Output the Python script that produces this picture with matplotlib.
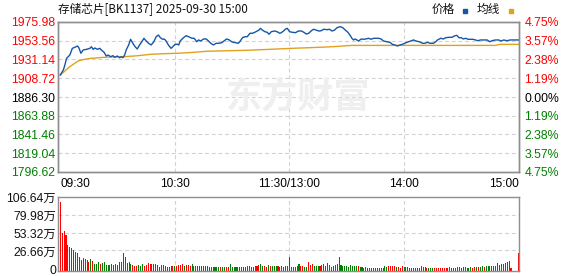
import matplotlib
matplotlib.use('Agg')
import matplotlib.pyplot as plt
from matplotlib.patches import Rectangle
from matplotlib.transforms import offset_copy
import numpy as np

# ---------------- data ----------------
title = "存储芯片[BK1137] 2025-09-30 15:00"
base_price = 1886.30
price_ticks = [1975.98, 1953.56, 1931.14, 1908.72, 1886.30, 1863.88, 1841.46, 1819.04, 1796.62]
price_tick_labels = ["1975.98", "1953.56", "1931.14", "1908.72", "1886.30",
                     "1863.88", "1841.46", "1819.04", "1796.62"]
pct_tick_labels = ["4.75%", "3.57%", "2.38%", "1.19%", "0.00%", "1.19%", "2.38%", "3.57%", "4.75%"]
time_ticks = [0, 60, 120, 180, 240]
time_labels = ["09:30", "10:30", "11:30/13:00", "14:00", "15:00"]
vol_ticks = [106.64, 79.98, 53.32, 26.66, 0]
vol_tick_labels = ["106.64万", "79.98万", "53.32万", "26.66万", "0"]

# price line (minute index, price)
price_min = [0, 1.6, 2.4, 3.3, 5.0, 6.3, 7.6, 9.0, 9.7, 10.8, 12.0, 13.7, 15.5, 16.3, 17.2, 18.1,
             19.4, 20.7, 21.5, 22.9, 24.1, 25.0, 26.4, 27.6, 28.5, 29.9, 31.1, 31.9, 32.8, 33.7,
             34.5, 35.8, 36.8, 38.0, 39.2, 40.3, 41.5, 42.7, 43.8, 45.0, 46.2, 47.6, 49.0, 50.2,
             51.4, 52.4, 53.6, 54.5, 55.4, 56.6, 58.0, 58.9, 60.1, 61.5,
             62.0, 62.8, 64.5, 65.9, 67.2, 68.9, 70.1, 71.5, 72.4, 73.6, 75.0, 76.4, 77.6, 78.8,
             80.2, 81.6, 82.8, 84.5, 85.7, 87.1, 88.5, 89.7, 90.6, 91.9, 93.2, 94.0, 95.4, 96.7,
             97.9, 99.3, 100.6, 101.9, 103.1, 104.1, 104.8, 105.8, 107.1, 108.3, 109.3, 110.5,
             112.3, 113.5, 114.9, 115.7, 116.9, 118.0, 118.8, 120.1, 121.4,
             123.2, 124.6, 126.3, 127.5, 128.8, 130.1, 131.5, 132.7, 133.9, 135.3, 136.7, 137.9,
             139.7, 140.9, 142.3, 143.7, 144.9, 146.6, 147.9, 149.2, 150.6, 151.9, 152.7, 153.6,
             154.4, 155.3, 156.2, 157.6, 158.8, 160.0, 161.4, 162.8, 164.0, 166.6, 168.0, 169.2,
             170.9, 172.6, 173.9, 175.2, 176.6, 177.9, 179.1, 180.4,
             181.5, 183.6, 185.0, 186.2, 187.9, 189.7, 190.9, 192.3, 193.7, 195.4, 196.6, 197.5,
             199.2, 200.6, 201.8, 203.6, 205.3, 206.2, 207.6, 208.8, 210.0, 211.0, 212.3, 213.5,
             214.9, 216.2, 217.4, 218.7, 220.0, 221.8, 223.5, 224.9, 226.1, 227.9, 229.6, 230.8,
             232.2, 233.9, 235.6, 237.4, 240.0]
price_val = [1912.6, 1918.6, 1924.6, 1932.6, 1936.5, 1944.5, 1945.7, 1947.3, 1945.3, 1938.6, 1942.5,
             1943.3, 1944.5, 1946.4, 1943.3, 1944.9, 1943.3, 1944.5, 1942.5, 1939.8, 1935.3, 1936.5,
             1934.5, 1935.7, 1933.8, 1935.3, 1933.3, 1934.5, 1933.3, 1936.5, 1942.5, 1948.5, 1955.3,
             1950.5, 1946.4, 1943.7, 1948.5, 1952.4, 1956.5, 1953.3, 1950.5, 1948.5, 1952.4, 1958.4,
             1960.4, 1957.2, 1955.3, 1955.6, 1953.3, 1948.5, 1944.5, 1946.4, 1949.3, 1949.3,
             1948.5, 1953.3, 1957.2, 1959.6, 1958.4, 1956.5, 1956.5, 1952.4, 1954.5, 1953.3, 1955.7,
             1955.7, 1953.3, 1950.5, 1948.5, 1950.5, 1950.5, 1951.2, 1953.3, 1955.7, 1954.5, 1952.4,
             1951.7, 1951.2, 1950.5, 1952.4, 1957.2, 1958.4, 1958.4, 1962.5, 1962.5, 1963.7, 1965.2,
             1966.4, 1968.4, 1966.4, 1964.4, 1963.7, 1961.3, 1964.4, 1965.2, 1964.4, 1962.5, 1963.2,
             1965.2, 1967.6, 1968.4, 1964.4, 1963.7,
             1963.2, 1965.2, 1965.2, 1963.7, 1961.6, 1962.5, 1965.6, 1967.3, 1966.4, 1965.2, 1965.6,
             1967.3, 1966.8, 1967.3, 1965.2, 1966.4, 1969.2, 1970.4, 1969.2, 1966.4, 1963.7, 1959.6,
             1956.5, 1954.5, 1955.7, 1954.5, 1953.3, 1955.7, 1955.3, 1955.7, 1956.5, 1955.3, 1956.5,
             1956.5, 1955.7, 1953.3, 1952.4, 1951.7, 1949.3, 1948.5, 1947.3, 1948.5, 1949.3, 1950.5,
             1951.7, 1953.3, 1954.5, 1953.3, 1952.4, 1950.5, 1950.5, 1951.7, 1950.5, 1950.5, 1952.4,
             1954.5, 1956.5, 1955.7, 1957.2, 1957.7, 1957.7, 1959.2, 1960.1, 1957.2, 1957.2, 1955.7,
             1956.5, 1955.3, 1955.3, 1955.3, 1954.5, 1953.6, 1954.5, 1954.5, 1954.5, 1952.4, 1953.6,
             1954.5, 1954.5, 1953.3, 1954.5, 1953.6, 1954.5, 1954.5, 1954.5]

# average price line (minute index, price)
avg_min = [0, 2.4, 5.0, 7.6, 9.4, 12.8, 16.3, 23.3, 33.7, 40.6, 47.6, 54.5, 61.5, 67.4, 76.7,
           98.4, 109.6, 121.4, 131.0, 142.3, 152.7, 228.0, 230.0, 240.0]
avg_val = [1912.6, 1917.4, 1922.6, 1926.6, 1929.4, 1931.4, 1932.6, 1933.8, 1934.5, 1935.7, 1937.4,
           1938.1, 1938.6, 1939.3, 1941.0, 1942.2, 1943.3, 1944.5, 1945.3, 1946.4, 1948.0, 1948.0,
           1949.2, 1949.2]

# volume per minute (万), minutes 0..240
volumes = [98, 53, 55.5, 49.6, 34.8, 31.8, 30.8, 27.4, 24.4, 23.0,
           17.0, 12.6, 16.0, 14.1, 12.6, 9.6, 14.1, 11.1, 7.1, 7.1,
           9.1, 7.1, 8.1, 10.1, 5.2, 5.2, 5.2, 6.2, 5.2, 6.2,
           5.7, 10.1, 10.1, 22.5, 17.5, 7.6, 9.1, 6.2, 5.2, 4.2,
           4.2, 5.2, 4.2, 6.2, 3.7, 5.2, 7.6, 6.2, 6.2, 6.2,
           6.2, 5.2, 2.7, 4.7, 5.2, 4.2, 2.7, 2.7,
           3.5, 3, 3, 4, 5, 5.5, 6, 4, 5, 5,
           4, 6, 3, 3, 3, 4, 3, 3, 3, 3,
           2, 2, 2, 1.5, 1.5, 1.5, 1.5, 1.5, 2, 2,
           1.5, 6, 2, 1.5, 1.5, 1.5, 1.5, 1.5, 1.5, 1.5,
           4, 3, 2, 2, 3, 4, 5, 6, 3, 4,
           2, 5, 4, 3, 4, 3, 3, 2, 3, 2,
           4, 4, 17,
           2.5, 2, 2, 4, 7, 4, 4, 2, 2, 9,
           5, 6, 3, 3, 3, 3, 5, 7, 3, 8,
           5, 2, 3, 5, 7, 17.5, 5, 3, 3, 4,
           2, 5, 4, 4, 4, 3, 2, 2, 1, 2,
           1, 1, 1, 1, 1, 1, 1, 1, 1, 3,
           2, 3, 3, 3, 3, 2, 2, 1,
           2.9, 2.5, 2, 2, 1, 1, 1, 1, 1, 1,
           3, 1.5, 2, 1, 1, 1, 1, 1, 1, 1,
           1, 1, 1, 1, 1, 2, 1, 1, 1, 2,
           2, 1, 2, 2, 1, 1, 2, 1, 2, 2,
           2, 2, 3, 2, 3, 4, 4, 4, 4, 4,
           8, 5, 6, 7, 8, 9, 11, 1, 0, 0,
           0, 23]
vol_dir = ("rrrrrrrrgg" "rrgrrrgrgg" "grggggggrg" "grrrrgggrr" "rgggrrrrgg" "rggggrrr"
           "rrgrrrrgrr" "rgrrrrgggg" "ggrgggrggr" "rggggggggg" "rrrgrrrggr" "rgrgggrgrr" "rrg"
           "rggrgrrggr" "rrgggrrrrr" "ggrrrrgggg" "gggggrggrr" "gggggggggg" "grrrrgrr"
           "rgrrrrrggr" "grgrgggrrr" "rrrrggrrrg" "gggrgggrrg" "rggrggrrrr" "ggrrrrrrrr" "rr")

# ---------------- style ----------------
RED = '#ff0000'
GREEN = '#008000'
BLUE = '#1656a8'
GOLD = '#e0a21e'
GRID = '#d2d2d2'
SPINE = '#8e8e8e'
plt.rcParams['font.family'] = ['Liberation Sans', 'Noto Sans CJK SC', 'DejaVu Sans']

W, H = 578, 276
fig = plt.figure(figsize=(W / 100, H / 100), dpi=100)
fig.patch.set_facecolor('white')

L, R = 58, 519
ax = fig.add_axes([L / W, 1 - 172 / H, (R - L) / W, 150 / H])
axv = fig.add_axes([L / W, 1 - 270.5 / H, (R - L) / W, 74 / H])

xlim = (-1.2, 240.2)
dash = (0, (3.5, 2.5))

# --- main price panel ---
ax.set_xlim(*xlim)
ax.set_ylim(price_ticks[-1], price_ticks[0])
for t in price_ticks[1:-1]:
    ax.axhline(t, color=GRID, lw=0.8, ls=dash, zorder=0)
for t in time_ticks[1:-1]:
    ax.axvline(t, color=GRID, lw=0.8, ls=dash, zorder=0)

# watermark
ax.text(0.52, 0.50, "东方财富", transform=ax.transAxes, ha='center', va='center',
        fontsize=26, fontweight='bold', color='#efefef', family=['Noto Sans CJK SC'],
        style='italic', zorder=0)

ax.plot(avg_min, avg_val, color=GOLD, lw=1.0, zorder=3)
ax.plot(price_min, price_val, color=BLUE, lw=1.0, zorder=4)

ax.set_yticks(price_ticks)
ax.set_yticklabels(price_tick_labels)
for lab, t in zip(ax.get_yticklabels(), price_ticks):
    lab.set_color(RED if t > base_price else (GREEN if t < base_price else 'black'))
    lab.set_fontsize(8.8)
ax.tick_params(axis='y', length=0, pad=2)

ax.set_xticks(time_ticks)
ax.set_xticklabels(time_labels)
xl = ax.get_xticklabels()
xl[0].set_ha('left')
xl[-1].set_ha('right')
for lab in xl:
    lab.set_fontsize(8.6)
ax.tick_params(axis='x', length=0, pad=4)

ax2 = ax.twinx()
ax2.set_ylim(price_ticks[-1], price_ticks[0])
ax2.set_yticks(price_ticks)
ax2.set_yticklabels(pct_tick_labels)
for lab, t in zip(ax2.get_yticklabels(), price_ticks):
    lab.set_color(RED if t > base_price else (GREEN if t < base_price else 'black'))
    lab.set_fontsize(8.8)
ax2.tick_params(axis='y', length=0, pad=4)

for a in (ax, ax2):
    for s in a.spines.values():
        s.set_color(SPINE)
        s.set_linewidth(1.0)

# --- volume panel ---
vol_low = -3.2
axv.set_xlim(*xlim)
axv.set_ylim(vol_low, 106.9)
for t in vol_ticks[1:-1]:
    axv.axhline(t, color=GRID, lw=0.8, ls=dash, zorder=0)
for t in time_ticks[1:-1]:
    axv.axvline(t, color=GRID, lw=0.8, ls=dash, zorder=0)

mins = np.arange(len(volumes))
vals = np.array(volumes, dtype=float)
cols = [RED if c == 'r' else GREEN for c in vol_dir]
mask = vals > 0
axv.bar(mins[mask], vals[mask] - vol_low, bottom=vol_low, width=0.55,
        color=np.array(cols)[mask], linewidth=0, antialiased=False, zorder=2)

axv.set_xticks([])
axv.set_yticks([])
for v, lab in zip(vol_ticks, vol_tick_labels):
    tr = offset_copy(axv.transData, fig=fig, x=-2, y=-2.5, units='dots')
    axv.text(xlim[0], v, lab, transform=tr, ha='right', va='center', fontsize=8.8,
             color='#111111')
for s in axv.spines.values():
    s.set_color(SPINE)
    s.set_linewidth(1.0)

# --- title & legend ---
fig.text(L / W, 1 - 9.5 / H, title, ha='left', va='center', fontsize=8.4,
         family=['Noto Sans CJK SC', 'DejaVu Sans'], color='#111111')
fig.text(432 / W, 1 - 9.5 / H, "价格", ha='left', va='center', fontsize=8.4,
         family=['Noto Sans CJK SC'], color='#111111')
fig.patches.append(Rectangle((462.5 / W, 1 - 12.5 / H), 4 / W, 3 / H, transform=fig.transFigure,
                             color=BLUE, figure=fig))
fig.text(477 / W, 1 - 9.5 / H, "均线", ha='left', va='center', fontsize=8.4,
         family=['Noto Sans CJK SC'], color='#111111')
fig.patches.append(Rectangle((508.5 / W, 1 - 12.5 / H), 4 / W, 3 / H, transform=fig.transFigure,
                             color=GOLD, figure=fig))

fig.savefig('out.png', dpi=100, facecolor='white')
